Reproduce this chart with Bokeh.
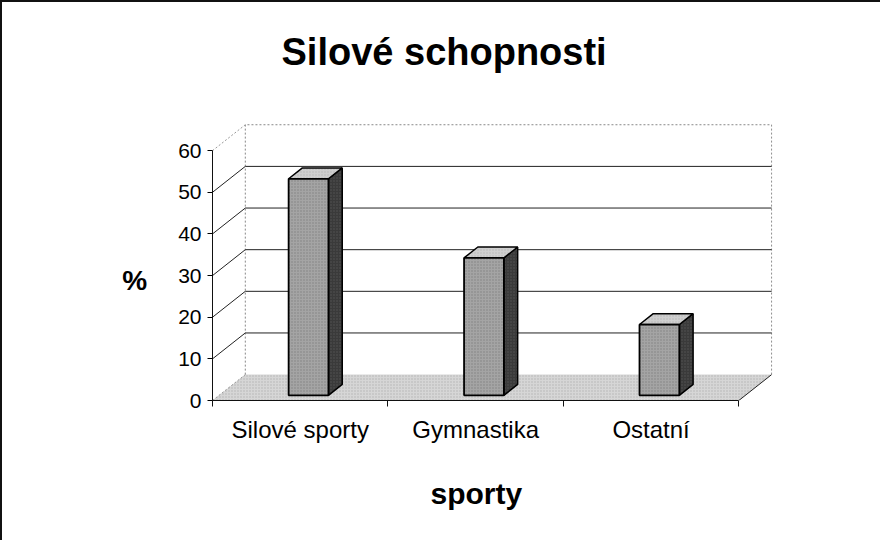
from bokeh.plotting import figure
from bokeh.models import Range1d, FixedTicker, Title
from bokeh.embed import file_html
from bokeh.resources import INLINE

# ---- data ----
categories = ["Silové sporty", "Gymnastika", "Ostatní"]
values = [52, 33, 17]
y_ticks = [0, 10, 20, 30, 40, 50, 60]
title_text = "Silové schopnosti"
y_title = "%"
x_title = "sporty"

# ---- 3D style constants (data units) ----
DX, DY = 0.187, 6.22      # depth offset of back wall
F0, F1 = 0.2, 0.62        # bar front / back depth fraction
BW = 0.227                # bar width
YMAX = y_ticks[-1]
N = len(categories)

FONT = "Liberation Sans"

p = figure(width=880, height=540,
           x_range=Range1d(0, N + DX + 0.005), y_range=Range1d(0, YMAX + DY + 0.3),
           output_backend="svg", toolbar_location=None,
           min_border_left=210, min_border_right=110,
           min_border_top=121, min_border_bottom=142,
           outline_line_color=None, background_fill_color="white",
           border_fill_color="white",
           styles={"border-left": "2px solid #111", "border-top": "2px solid #111"})
p.grid.visible = False

# title
p.title.text = title_text + "\n"
p.title.align = "left"
p.title.offset = 69
p.title.standoff = 18
p.title.text_font = FONT
p.title.text_font_size = "38px"
p.title.text_font_style = "bold"
p.title.text_color = "black"

# floor
p.patch([0, N, N + DX, DX], [0, 0, DY, DY], fill_color="#d6d6d6", line_color=None,
        hatch_pattern="dot", hatch_color="#9a9a9a", hatch_scale=3, hatch_alpha=0.6)
p.line([N, N + DX], [0, DY], line_color="#222", line_width=1)
p.line([0, DX], [0, DY], line_color="#999", line_width=1, line_dash="2 2")

# back wall outline (dashed)
p.line([DX, DX, N + DX, N + DX], [DY, YMAX + DY, YMAX + DY, DY],
       line_color="#888", line_width=1, line_dash="2 2")
p.line([0, DX], [YMAX, YMAX + DY], line_color="#999", line_width=1, line_dash="2 2")

# gridlines on back wall + slanted connectors on the left wall
grid_vals = [v for v in y_ticks if 0 < v < YMAX]
p.multi_line(xs=[[DX, N + DX] for v in grid_vals], ys=[[v + DY, v + DY] for v in grid_vals],
             line_color="#222", line_width=1)
p.multi_line(xs=[[0, DX] for v in grid_vals], ys=[[v, v + DY] for v in grid_vals],
             line_color="#222", line_width=1)

# bars
dDX, dDY = (F1 - F0) * DX, (F1 - F0) * DY
front_l, front_r, bottoms, tops = [], [], [], []
side_xs, side_ys, top_xs, top_ys = [], [], [], []
for i, v in enumerate(values):
    cx = i + 0.51
    l = cx - BW / 2 + F0 * DX
    r = l + BW
    b = F0 * DY
    t = b + v
    front_l.append(l); front_r.append(r); bottoms.append(b); tops.append(t)
    side_xs.append([r, r + dDX, r + dDX, r])
    side_ys.append([b, b + dDY, t + dDY, t])
    top_xs.append([l, r, r + dDX, l + dDX])
    top_ys.append([t, t, t + dDY, t + dDY])

p.patches(side_xs, side_ys, fill_color="#3a3a3a", line_color="black", line_width=1.5,
          hatch_pattern="dot", hatch_color="#707070", hatch_scale=3, hatch_alpha=0.5)
p.patches(top_xs, top_ys, fill_color="#cfcfcf", line_color="black", line_width=1.5,
          hatch_pattern="dot", hatch_color="#999999", hatch_scale=3, hatch_alpha=0.5)
p.quad(left=front_l, right=front_r, bottom=bottoms, top=tops,
       fill_color="#a4a4a4", line_color="black", line_width=1.8,
       hatch_pattern="dot", hatch_color="#666666", hatch_scale=3, hatch_alpha=0.6)

# axes
ya = p.yaxis[0]
ya.ticker = FixedTicker(ticks=y_ticks)
ya.bounds = (0, YMAX)
ya.axis_line_color = "#111"
ya.major_tick_out = 5
ya.major_tick_in = 0
ya.minor_tick_line_color = None
ya.major_label_standoff = 6
ya.major_label_text_font = FONT
ya.major_label_text_font_size = "21px"
ya.major_label_text_color = "black"
ya.axis_label = "\n" + y_title
ya.axis_label_orientation = "horizontal"
ya.axis_label_standoff = 28
ya.axis_label_text_font = FONT
ya.axis_label_text_font_size = "28px"
ya.axis_label_text_font_style = "bold"
ya.axis_label_text_color = "black"

xa = p.xaxis[0]
xa.ticker = FixedTicker(ticks=[i + 0.5 for i in range(N)], minor_ticks=list(range(N + 1)))
xa.major_label_overrides = {i + 0.5: c for i, c in enumerate(categories)}
xa.bounds = (0, N)
xa.axis_line_color = "#111"
xa.major_tick_line_color = None
xa.major_tick_out = 0
xa.major_tick_in = 0
xa.minor_tick_out = 6
xa.minor_tick_in = 0
xa.minor_tick_line_color = "#111"
xa.major_label_standoff = 9
xa.major_label_text_font = FONT
xa.major_label_text_font_size = "24px"
xa.major_label_text_color = "black"

p.add_layout(Title(text=x_title, align="left", offset=218, standoff=58,
                   text_font=FONT, text_font_size="30px", text_font_style="bold",
                   text_color="black"), "below")

open("out.html", "w").write(file_html(p, INLINE))
